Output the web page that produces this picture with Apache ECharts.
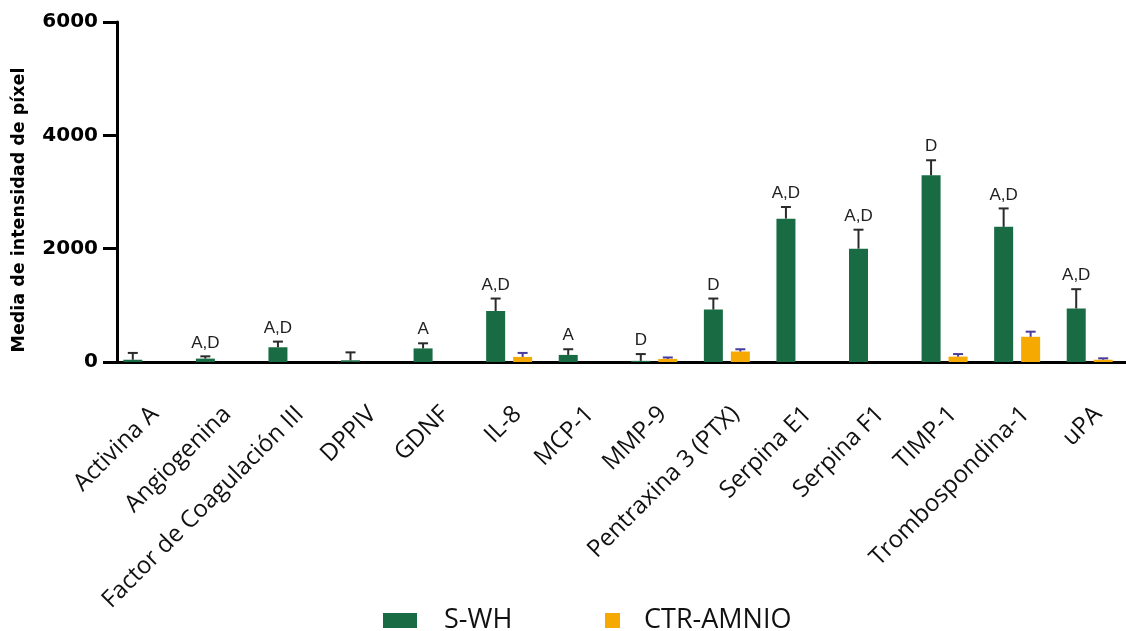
<!DOCTYPE html>
<html>
<head>
<meta charset="utf-8">
<script src="https://cdn.jsdelivr.net/npm/echarts@6/dist/echarts.min.js"></script>
<style>
  html, body { margin: 0; padding: 0; background: #fff; }
  #chart { width: 1126px; height: 631px; }
</style>
</head>
<body>
<div id="chart"></div>
<script>
// datos
const categorias = ['Activina A', 'Angiogenina', 'Factor de Coagulación III', 'DPPIV', 'GDNF', 'IL-8', 'MCP-1',
  'MMP-9', 'Pentraxina 3 (PTX)', 'Serpina E1', 'Serpina F1', 'TIMP-1', 'Trombospondina-1', 'uPA'];
const sWh = [40, 60, 260, 30, 240, 900, 125, 20, 925, 2530, 2000, 3295, 2385, 945];
const sWhErr = [120, 40, 100, 140, 90, 220, 100, 120, 195, 205, 335, 265, 325, 340];
const ctrAmnio = [0, 0, 0, 0, 0, 90, 0, 55, 185, 0, 0, 95, 445, 40];
const ctrAmnioErr = [0, 0, 0, 0, 0, 70, 0, 25, 40, 0, 0, 45, 90, 25];
const letras = ['', 'A,D', 'A,D', '', 'A', 'A,D', 'A', 'D', 'D', 'A,D', 'A,D', 'D', 'A,D', 'A,D'];
const yTicks = [0, 2000, 4000, 6000];

const VERDE = '#196b44';
const NARANJA = '#f6a900';
const BAR_W = 19;
const OFFSET = 13.5; // distancia del centro de cada barra al centro del grupo

const chart = echarts.init(document.getElementById('chart'));

// barras de error (solo hacia arriba, estilo GraphPad) + letras de significancia
function errorBar(dx, color, withText) {
  return function (params, api) {
    const i = api.value(0);
    const v = api.value(1);
    const e = api.value(2);
    const base = api.coord([i, v]);
    const top = api.coord([i, v + e]);
    const x = base[0] + dx;
    const children = [];
    if (e > 0) {
      children.push({
        type: 'line',
        shape: { x1: x, y1: base[1], x2: x, y2: top[1] },
        style: { stroke: color, lineWidth: 2 }
      });
      children.push({
        type: 'line',
        shape: { x1: x - 5, y1: top[1], x2: x + 5, y2: top[1] },
        style: { stroke: color, lineWidth: 2 }
      });
    }
    if (withText && letras[i]) {
      children.push({
        type: 'text',
        style: {
          text: letras[i], x: x, y: top[1] - 5,
          align: 'center', verticalAlign: 'bottom',
          fill: '#222', font: '17px "Liberation Sans", Arial, sans-serif'
        }
      });
    }
    return { type: 'group', children: children };
  };
}

const option = {
  animation: false,
  backgroundColor: '#fff',
  grid: { left: 110, width: 1027, top: 22, bottom: 269 },
  legend: [
    {
      data: ['S-WH'], left: 378, top: 602, itemWidth: 34, itemHeight: 15,
      icon: 'rect',
      textStyle: { fontFamily: 'Open Sans', fontSize: 27, color: '#111', padding: [0, 0, 0, 22] }
    },
    {
      data: ['CTR-AMNIO'], left: 600, top: 602, itemWidth: 15, itemHeight: 15,
      icon: 'rect',
      textStyle: { fontFamily: 'Open Sans', fontSize: 27, color: '#111', padding: [0, 0, 0, 19] }
    }
  ],
  xAxis: {
    type: 'category',
    data: categorias,
    axisLine: { lineStyle: { color: '#000', width: 3 } },
    axisTick: { alignWithLabel: true, length: 12, lineStyle: { color: '#000', width: 3 } },
    axisLabel: {
      interval: 0, rotate: 45, margin: 40, verticalAlign: 'top',
      fontFamily: 'Open Sans', fontSize: 24, color: '#111'
    }
  },
  yAxis: {
    type: 'value',
    min: 0, max: 6000, interval: 2000,
    offset: -7,
    name: 'Media de intensidad de píxel',
    nameLocation: 'middle', nameGap: 89,
    nameTextStyle: {
      fontFamily: 'DejaVu Sans', fontWeight: 'bold', fontSize: 17.5, color: '#000',
      padding: [0, 36, 0, 0]
    },
    splitLine: { show: false },
    axisLine: { show: true, lineStyle: { color: '#000', width: 3 } },
    axisTick: { show: true, length: 14, lineStyle: { color: '#000', width: 3 } },
    axisLabel: {
      margin: 19,
      fontFamily: 'DejaVu Sans', fontWeight: 'bold', fontSize: 20, color: '#000',
      formatter: v => (yTicks.indexOf(v) >= 0 ? String(v) : '')
    }
  },
  series: [
    {
      name: 'S-WH', type: 'bar', data: sWh, barWidth: BAR_W, barGap: '42%',
      itemStyle: { color: VERDE }
    },
    {
      name: 'CTR-AMNIO', type: 'bar', data: ctrAmnio, barWidth: BAR_W, barGap: '42%',
      itemStyle: { color: NARANJA }
    },
    {
      name: 'errS', type: 'custom', clip: false, z: 5,
      renderItem: errorBar(-OFFSET, '#2a2a2a', true),
      encode: { x: 0, y: 1 },
      data: sWh.map((v, i) => [i, v, sWhErr[i]])
    },
    {
      name: 'errC', type: 'custom', clip: false, z: 5,
      renderItem: errorBar(OFFSET, '#4a3c9a', false),
      encode: { x: 0, y: 1 },
      data: ctrAmnio.map((v, i) => [i, v, ctrAmnioErr[i]])
    }
  ]
};

chart.setOption(option);
</script>
</body>
</html>
